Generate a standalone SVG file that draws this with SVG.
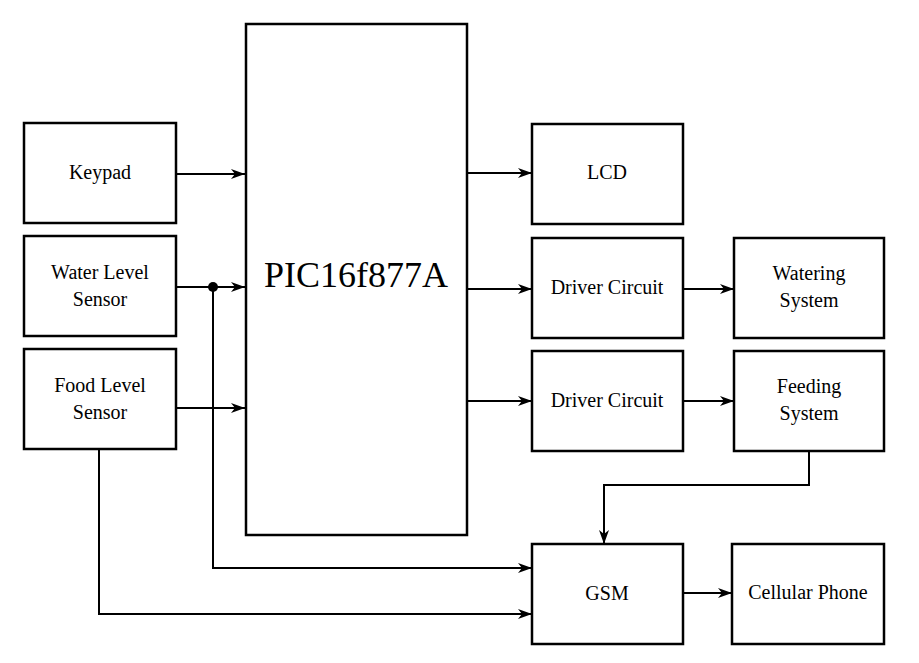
<svg xmlns="http://www.w3.org/2000/svg" width="919" height="663" viewBox="0 0 919 663">
<style>
.b{fill:#fff;stroke:#000;stroke-width:2.5}
.t{font-family:"Liberation Serif",serif;font-size:20px;text-anchor:middle;fill:#000}
.c{fill:none;stroke:#000;stroke-width:2;marker-end:url(#a)}
</style>
<defs><marker id="a" markerWidth="14" markerHeight="10" refX="14" refY="5" orient="auto" markerUnits="userSpaceOnUse"><path d="M0,0 L14,5 L0,10 L4,5 Z" fill="#000"/></marker></defs>
<rect width="919" height="663" fill="#fff"/>
<g id="pic"><rect class="b" x="246" y="24" width="221" height="511"/><text class="t" x="356" y="287" style="font-size:36px">PIC16f877A</text></g>
<g id="keypad"><rect class="b" x="24" y="123" width="152" height="100"/><text class="t" x="100" y="179">Keypad</text></g>
<g id="water"><rect class="b" x="24" y="236" width="152" height="100"/><text class="t" x="100" y="279">Water Level</text><text class="t" x="100" y="306">Sensor</text></g>
<g id="food"><rect class="b" x="24" y="349" width="152" height="100"/><text class="t" x="100" y="392">Food Level</text><text class="t" x="100" y="419">Sensor</text></g>
<g id="lcd"><rect class="b" x="532" y="124" width="151" height="100"/><text class="t" x="607" y="179">LCD</text></g>
<g id="drv1"><rect class="b" x="532" y="238" width="151" height="100"/><text class="t" x="607" y="294">Driver Circuit</text></g>
<g id="drv2"><rect class="b" x="532" y="351" width="151" height="100"/><text class="t" x="607" y="407">Driver Circuit</text></g>
<g id="watering"><rect class="b" x="734" y="238" width="150" height="100"/><text class="t" x="809" y="280">Watering</text><text class="t" x="809" y="307">System</text></g>
<g id="feeding"><rect class="b" x="734" y="351" width="150" height="100"/><text class="t" x="809" y="393">Feeding</text><text class="t" x="809" y="420">System</text></g>
<g id="gsm"><rect class="b" x="532" y="544" width="151" height="100"/><text class="t" x="607" y="600">GSM</text></g>
<g id="phone"><rect class="b" x="732" y="544" width="152" height="100"/><text class="t" x="808" y="599">Cellular Phone</text></g>
<g id="connectors">
<path class="c" d="M176,174 H245"/>
<path class="c" d="M176,287 H245"/>
<path class="c" d="M176,408 H245"/>
<circle cx="213" cy="287" r="5" fill="#000"/>
<path class="c" d="M213,287 V568 H532"/>
<path class="c" d="M99,449 V614 H532"/>
<path class="c" d="M467,173 H532"/>
<path class="c" d="M467,289 H532"/>
<path class="c" d="M467,401 H532"/>
<path class="c" d="M683,289 H734"/>
<path class="c" d="M683,401 H734"/>
<path class="c" d="M809,451 V485 H604 V544"/>
<path class="c" d="M683,593 H732"/>
</g>
</svg>
